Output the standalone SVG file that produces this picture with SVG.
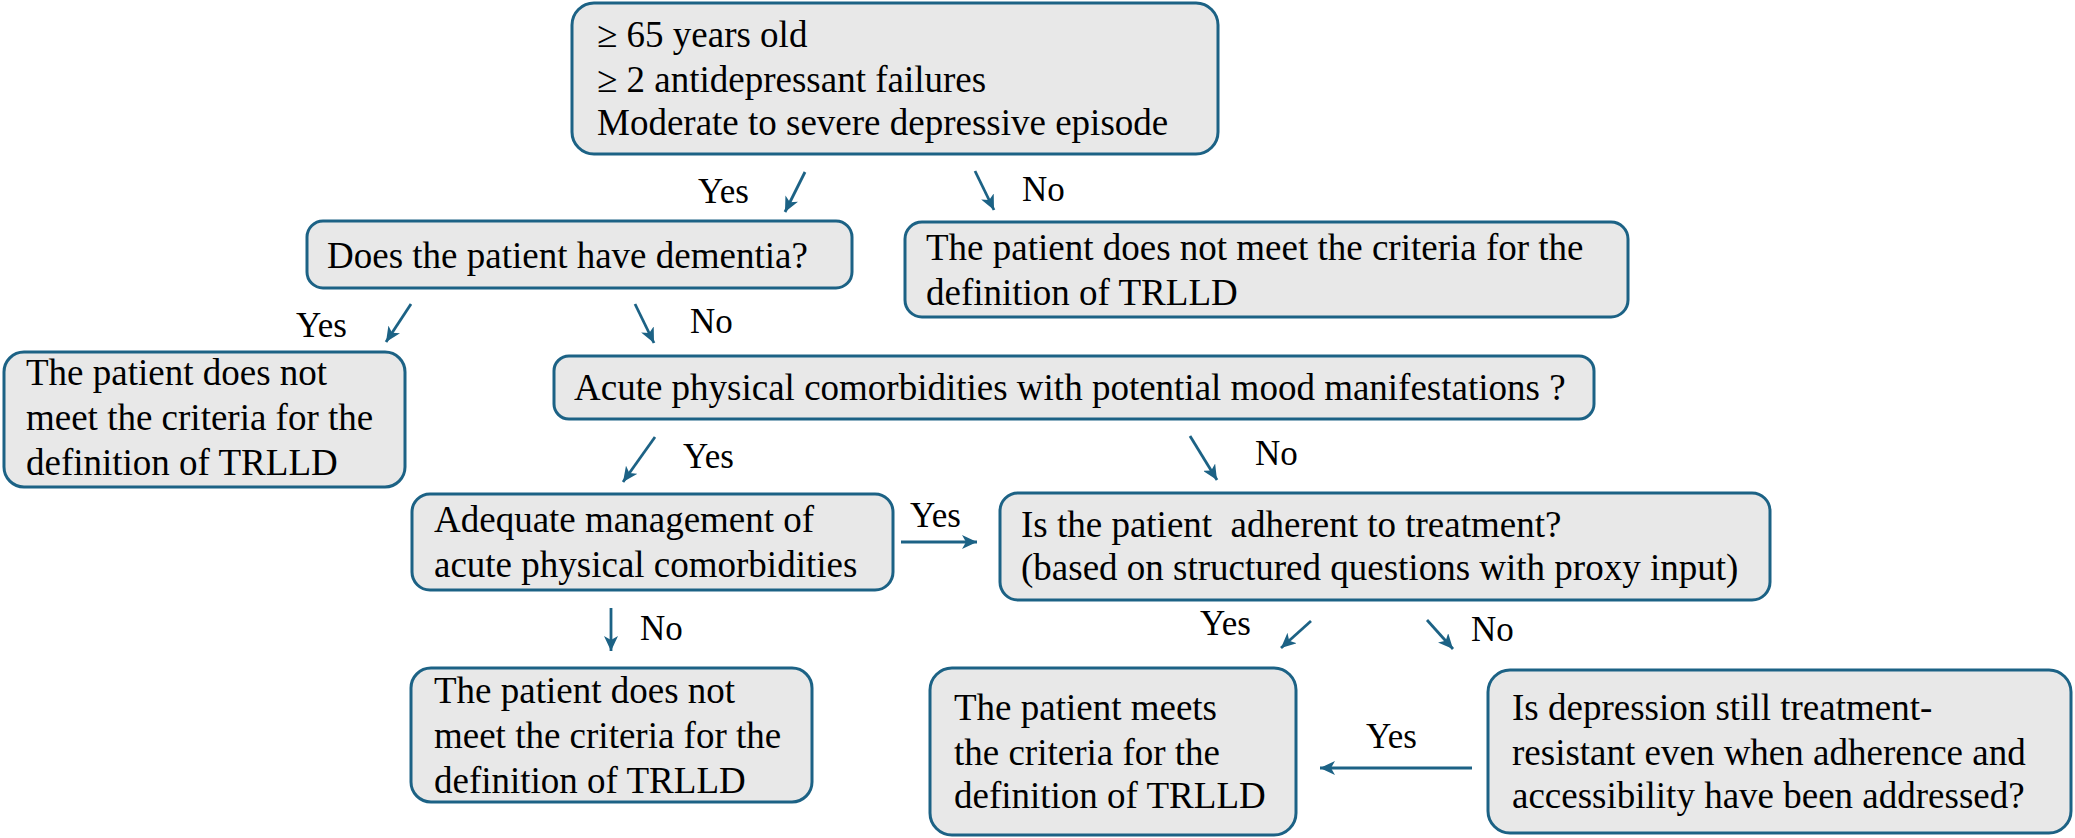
<svg xmlns="http://www.w3.org/2000/svg" width="2075" height="838" viewBox="0 0 2075 838">
<defs>
<style>
.box{fill:#E8E8E8;stroke:#1C6285;stroke-width:3}
.t{font-size:37px;fill:#000;white-space:pre}
.lbl{font-size:35px;fill:#000}
.c{stroke:#1C6285;stroke-width:2.8;fill:none;marker-end:url(#ah)}
</style>
<marker id="ah" markerUnits="userSpaceOnUse" markerWidth="16" markerHeight="14" refX="15" refY="7" orient="auto">
<path d="M0,0 L15,7 L0,14 L4,7 Z" fill="#1C6285"/>
</marker>
</defs>
<rect width="2075" height="838" fill="#fff"/>
<g font-family="'Liberation Serif', 'Times New Roman', serif">
<g id="n-top">
<rect class="box" x="572" y="3" width="646" height="151" rx="22"/>
<text class="t" x="597" y="47">≥ 65 years old</text>
<text class="t" x="597" y="92">≥ 2 antidepressant failures</text>
<text class="t" x="597" y="135">Moderate to severe depressive episode</text>
</g>
<g id="n-dementia">
<rect class="box" x="307" y="221" width="545" height="67" rx="16"/>
<text class="t" x="327" y="268">Does the patient have dementia?</text>
</g>
<g id="n-notmeet1">
<rect class="box" x="905" y="222" width="723" height="95" rx="17"/>
<text class="t" x="926" y="260">The patient does not meet the criteria for the</text>
<text class="t" x="926" y="305">definition of TRLLD</text>
</g>
<g id="n-notmeet2">
<rect class="box" x="4" y="352" width="401" height="135" rx="20"/>
<text class="t" x="26" y="385">The patient does not</text>
<text class="t" x="26" y="430">meet the criteria for the</text>
<text class="t" x="26" y="475">definition of TRLLD</text>
</g>
<g id="n-acute">
<rect class="box" x="554" y="356" width="1040" height="63" rx="15"/>
<text class="t" x="574" y="400">Acute physical comorbidities with potential mood manifestations ?</text>
</g>
<g id="n-adequate">
<rect class="box" x="412" y="494" width="481" height="96" rx="18"/>
<text class="t" x="434" y="532">Adequate management of</text>
<text class="t" x="434" y="577">acute physical comorbidities</text>
</g>
<g id="n-adherent">
<rect class="box" x="1000" y="493" width="770" height="107" rx="18"/>
<text class="t" x="1021" y="537">Is the patient  adherent to treatment?</text>
<text class="t" x="1021" y="580">(based on structured questions with proxy input)</text>
</g>
<g id="n-notmeet3">
<rect class="box" x="411" y="668" width="401" height="134" rx="20"/>
<text class="t" x="434" y="703">The patient does not</text>
<text class="t" x="434" y="748">meet the criteria for the</text>
<text class="t" x="434" y="793">definition of TRLLD</text>
</g>
<g id="n-meets">
<rect class="box" x="930" y="668" width="366" height="167" rx="22"/>
<text class="t" x="954" y="720">The patient meets</text>
<text class="t" x="954" y="765">the criteria for the</text>
<text class="t" x="954" y="808">definition of TRLLD</text>
</g>
<g id="n-depression">
<rect class="box" x="1488" y="670" width="583" height="163" rx="22"/>
<text class="t" x="1512" y="720">Is depression still treatment-</text>
<text class="t" x="1512" y="765">resistant even when adherence and</text>
<text class="t" x="1512" y="808">accessibility have been addressed?</text>
</g>
<g id="connectors">
<line class="c" x1="805" y1="172" x2="785" y2="212"/>
<text class="lbl" x="698" y="203">Yes</text>
<line class="c" x1="975" y1="171" x2="994" y2="210"/>
<text class="lbl" x="1022" y="201">No</text>
<line class="c" x1="411" y1="304" x2="386" y2="342"/>
<text class="lbl" x="296" y="337">Yes</text>
<line class="c" x1="635" y1="304" x2="654" y2="343"/>
<text class="lbl" x="690" y="333">No</text>
<line class="c" x1="655" y1="437" x2="623" y2="482"/>
<text class="lbl" x="683" y="468">Yes</text>
<line class="c" x1="1190" y1="436" x2="1217" y2="480"/>
<text class="lbl" x="1255" y="465">No</text>
<line class="c" x1="901" y1="542" x2="977" y2="542"/>
<text class="lbl" x="910" y="527">Yes</text>
<line class="c" x1="611" y1="608" x2="611" y2="651"/>
<text class="lbl" x="640" y="640">No</text>
<line class="c" x1="1311" y1="621" x2="1281" y2="648"/>
<text class="lbl" x="1200" y="635">Yes</text>
<line class="c" x1="1427" y1="620" x2="1453" y2="649"/>
<text class="lbl" x="1471" y="641">No</text>
<line class="c" x1="1472" y1="768" x2="1320" y2="768"/>
<text class="lbl" x="1366" y="748">Yes</text>
</g>
</g>
</svg>
